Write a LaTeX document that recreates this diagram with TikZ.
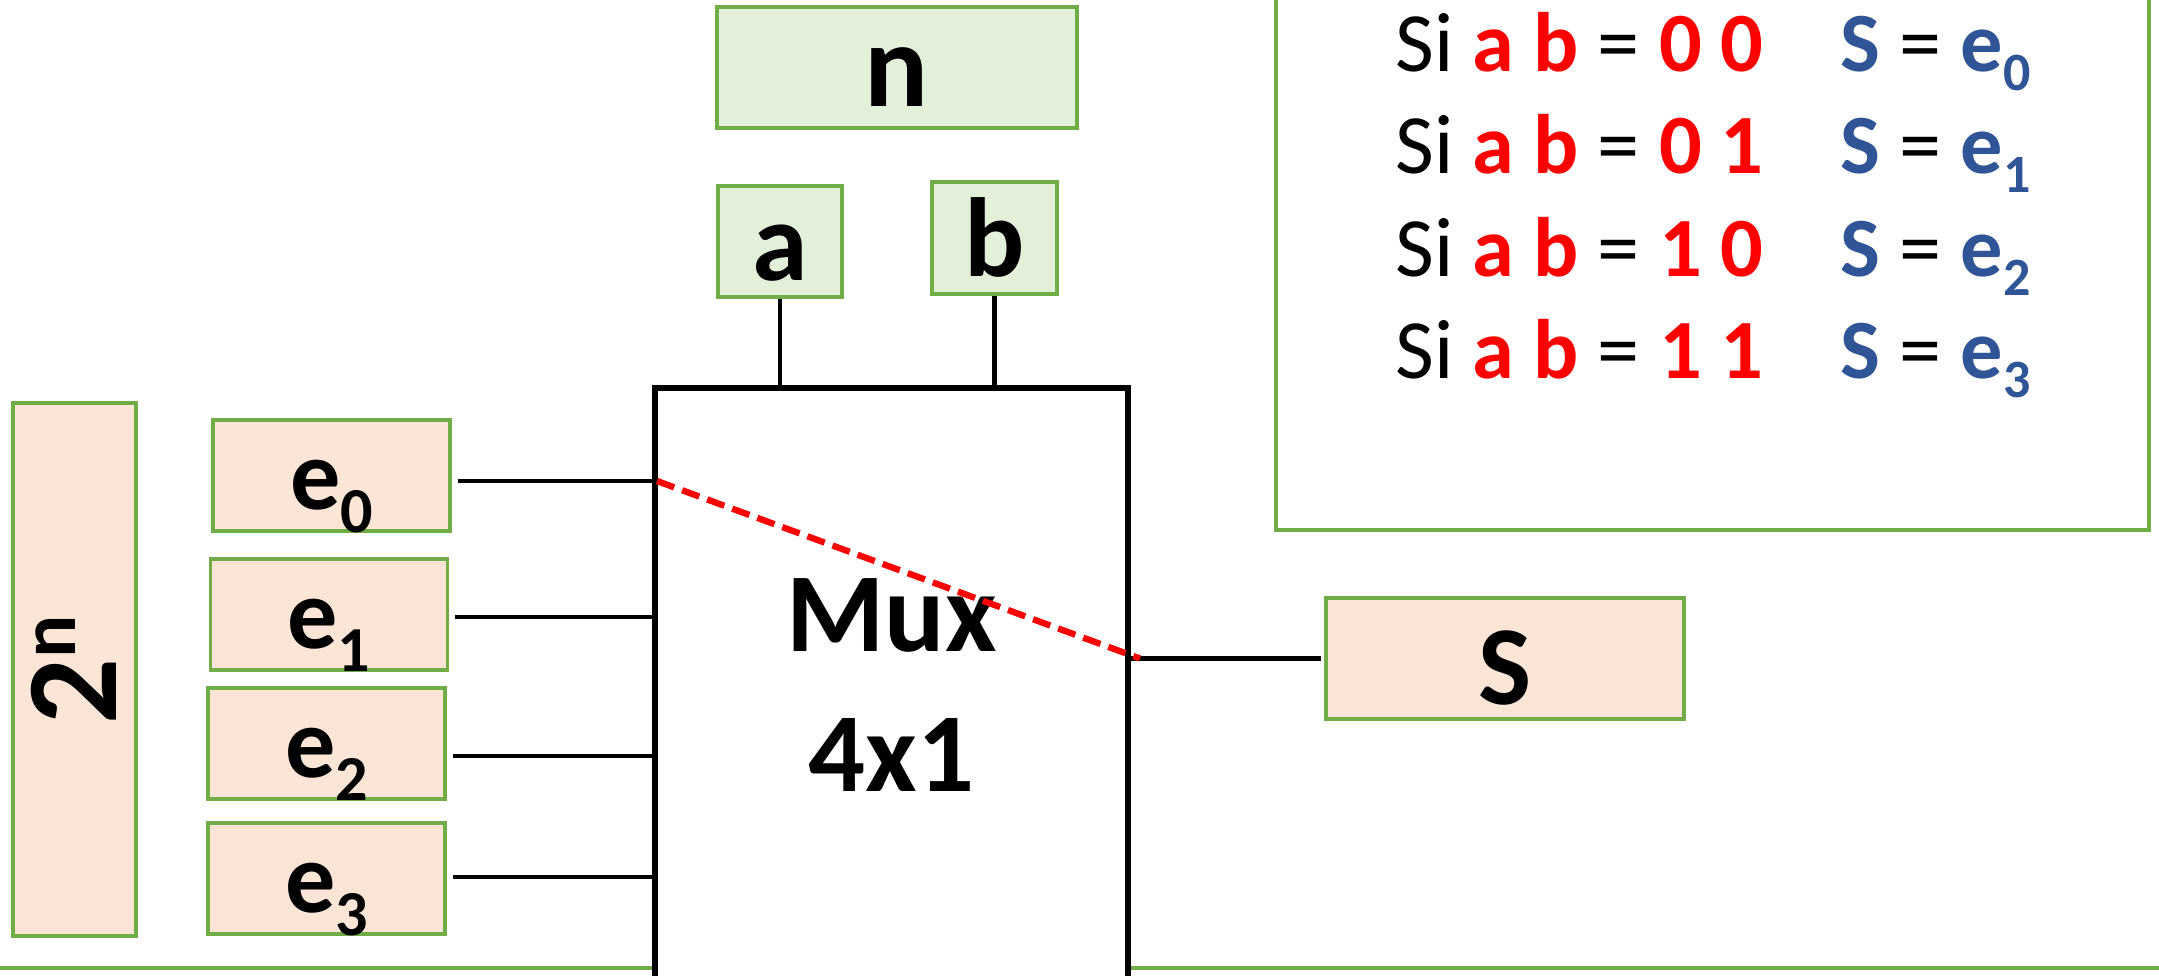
\documentclass[tikz,border=0pt]{standalone}
\usepackage{fontspec}
\setmainfont{Carlito}
\usetikzlibrary{positioning}
\definecolor{mxgreen}{HTML}{70AD47}
\definecolor{mxpeach}{HTML}{FBE5D6}
\definecolor{mxmint}{HTML}{E2F0D9}
\definecolor{mxblue}{HTML}{2F5597}
\newcommand\mxsub[1]{\raisebox{-0.23em}{\scalebox{0.64}{#1}}}
\newcommand\mxsup[1]{\raisebox{0.32em}{\scalebox{0.62}{#1}}}
\tikzset{mxlbl/.style={draw=mxgreen,line width=0.9pt,inner sep=0pt,text height=25pt,text depth=3pt,
           font=\fontsize{32}{38}\selectfont\bfseries},
         mxin/.style={mxlbl,fill=mxpeach,minimum width=2.37cm,minimum height=1.11cm},
         mxsel/.style={mxlbl,fill=mxmint},
         mxwire/.style={line width=1.4pt},
         mxrow/.style={anchor=base west,inner sep=0pt,font=\fontsize{24}{24}\selectfont}}

\begin{document}
\begin{tikzpicture}
  \useasboundingbox (0,0) rectangle (21.59,-9.75);
  % truth table frame and ground line
  \node[draw=mxgreen,line width=0.9pt,minimum width=8.73cm,minimum height=5.6cm] (tbl) at (17.125,-2.5) {};
  \draw[mxgreen,line width=0.9pt] (0,-9.68) -- (21.59,-9.68);
  % multiplexer
  \node[draw,line width=1.7pt,fill=white,minimum width=4.73cm,minimum height=5.94cm,align=center,
        font=\fontsize{32}{40}\selectfont\bfseries] (mux) at (8.915,-6.85) {Mux\\4x1};
  % selection inputs
  \node[mxsel,minimum width=3.6cm,minimum height=1.21cm,font=\fontsize{34}{40}\selectfont\bfseries] (n) at (8.97,-0.675) {n};
  \node[mxsel,minimum width=1.24cm,minimum height=1.11cm] (a) at (7.80,-2.415) {a};
  \node[mxsel,minimum width=1.25cm,minimum height=1.12cm] (b) at (9.945,-2.38) {b};
  % data inputs
  \node[mxin,rotate=90,minimum width=5.33cm,minimum height=1.23cm,text height=27pt,
        font=\fontsize{37}{42}\selectfont\bfseries] (pow) at (0.745,-6.695) {2\mxsup{n}};
  \foreach \i/\x/\y in {0/3.315/-4.755,1/3.29/-6.145,2/3.265/-7.435,3/3.265/-8.785}
    \node[mxin,text height=22.5pt,font=\fontsize{28.5}{34}\selectfont\bfseries] (e\i) at (\x,\y) {e\mxsub{\i}};
  % output
  \node[mxin,minimum width=3.58cm,minimum height=1.21cm,text height=29pt] (S) at (15.05,-6.585) {S};
  % wiring
  \foreach \i/\y in {0/-4.81,1/-6.17,2/-7.56,3/-8.77}
    \coordinate (in\i) at (mux.west |- 0,\y);
  \foreach \i in {0,...,3} \draw[mxwire] ([xshift=0.06cm]e\i.east |- in\i) -- (in\i);
  \draw[mxwire] (a.south) -- (a.south |- mux.north);
  \draw[mxwire] (b.south) -- (b.south |- mux.north);
  \coordinate (out) at (S.west -| mux.east);
  \draw[mxwire] (out) -- ([xshift=-0.03cm]S.west);
  \draw[red,line width=1.8pt,dash pattern=on 5.2pt off 2.4pt] ([xshift=0.05cm]in0) -- ([xshift=0.09cm]out);
  % truth table
  \foreach \bits/\k in {0 0/0,0 1/1,1 0/2,1 1/3}
    \node[mxrow] (row\k) at (13.95,-0.71-1.025*\k) {Si {\bfseries\color{red}a b} = {\bfseries\color{red}\bits}\hspace{0.77cm}{\bfseries\color{mxblue}S} = {\bfseries\color{mxblue}e\mxsub{\k}}};
\end{tikzpicture}
\end{document}
